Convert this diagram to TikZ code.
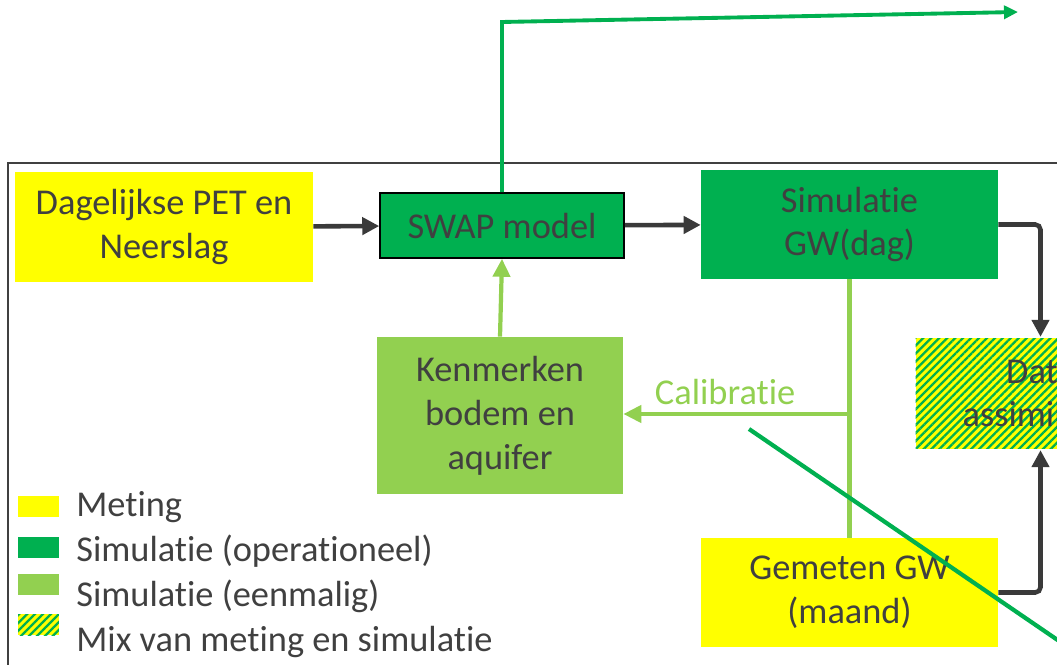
\documentclass[tikz,border=0pt]{standalone}
\usepackage{fontspec}
\setmainfont{Carlito}[Ligatures=NoCommon]
\usetikzlibrary{arrows.meta,patterns.meta}
\definecolor{geel}{HTML}{FFFF00}
\definecolor{groen}{HTML}{00B050}
\definecolor{lichtgroen}{HTML}{92D050}
\definecolor{tekst}{HTML}{404040}
\definecolor{pijl}{HTML}{3A3A3A}
\begin{document}
\begin{tikzpicture}[x=0.02cm, y=-0.02cm,
	font=\fontsize{20.7pt}{25pt}\selectfont, text=tekst,
	blok/.style={rectangle, align=center, inner sep=0pt, minimum width=5.96cm, minimum height=2.2cm},
	meting/.style={blok, fill=geel},
	operationeel/.style={blok, fill=groen},
	eenmalig/.style={blok, fill=lichtgroen},
	mix/.style={blok, preaction={fill=geel}, pattern={Lines[angle=45,distance=3.2pt,line width=1.3pt]}, pattern color=groen},
	legenda/.style={minimum width=0.82cm, minimum height=0.42cm},
	zwart/.style={draw=pijl, line width=2.6pt, -{Triangle[length=0.34cm,width=0.34cm]}},
	licht/.style={draw=lichtgroen, line width=2.4pt},
	lichtpijl/.style={licht, -{Triangle[length=0.36cm,width=0.34cm]}},
	groenpijl/.style={draw=groen, line width=2.2pt, -{Triangle[length=0.28cm,width=0.26cm]}}]
	\useasboundingbox (0,0) rectangle (1057,665);
	\clip (0,0) rectangle (1057,665);
	% kader
	\draw[draw=tekst, line width=1.1pt] (8,700) -- (8,163) -- (1100,163);
	% blokken
	\draw (164,227) node[meting] (dag) {Dagelijkse PET en\\Neerslag};
	\draw (502,225.5) node[operationeel, draw=black, line width=0.9pt, minimum width=4.88cm, minimum height=1.3cm] (swap) {SWAP model};
	\draw (849.5,224.5) node[operationeel, minimum width=5.94cm, minimum height=2.18cm] (sim) {Simulatie\\GW(dag)};
	\draw (500,415.5) node[eenmalig, minimum width=4.92cm, minimum height=3.14cm] (kenm) {Kenmerken\\bodem en\\aquifer};
	\draw (1040.5,393.5) node[mix, minimum width=5cm, minimum height=2.22cm] (data) {Data\\assimilatie};
	\draw (849.5,592.5) node[meting, minimum width=5.94cm, minimum height=2.18cm] (gem) {Gemeten GW\\(maand)};
	% pijlen
	\draw[zwart] (dag) -- (swap);
	\draw[zwart] (swap) -- (sim);
	\draw[zwart, rounded corners=3pt] (sim.east) -| (data.north);
	\draw[zwart, rounded corners=3pt] (gem.east) -| (data.south);
	\draw[lichtpijl] (kenm.north) -- (swap.south);
	\draw[licht] (sim.south) -- (gem.north);
	\coordinate (cal) at (849.5,414);
	\draw[lichtpijl] (cal) -- node[pos=.55, above=0.14cm, inner sep=0pt, text=lichtgroen] (caltekst) {Calibratie} (kenm.east |- cal);
	\coordinate (hoek) at (502,22);
	\coordinate (uit) at (1018,12);
	\draw[groenpijl] (swap.north) -- (hoek) -- (uit);
	\coordinate (d1) at (749,429);
	\coordinate (d2) at (1100,669);
	\draw[draw=groen, line width=2.4pt] (d1) -- (d2);
	% legenda
	\draw (38.5,506.5) node[meting, legenda] (lgmeting) {};
	\draw (38.5,547.5) node[operationeel, legenda] (lgoper) {};
	\draw (38.5,584.5) node[eenmalig, legenda] (lgeen) {};
	\draw (38.5,624.5) node[mix, legenda] (lgmix) {};
	\draw (76,516) node[anchor=base west, inner sep=0pt] (txtmeting) {Meting};
	\draw (76,561) node[anchor=base west, inner sep=0pt] (txtoper) {Simulatie (operationeel)};
	\draw (76,606) node[anchor=base west, inner sep=0pt] (txteen) {Simulatie (eenmalig)};
	\draw (76,651) node[anchor=base west, inner sep=0pt] (txtmix) {Mix van meting en simulatie};
\end{tikzpicture}
\end{document}
